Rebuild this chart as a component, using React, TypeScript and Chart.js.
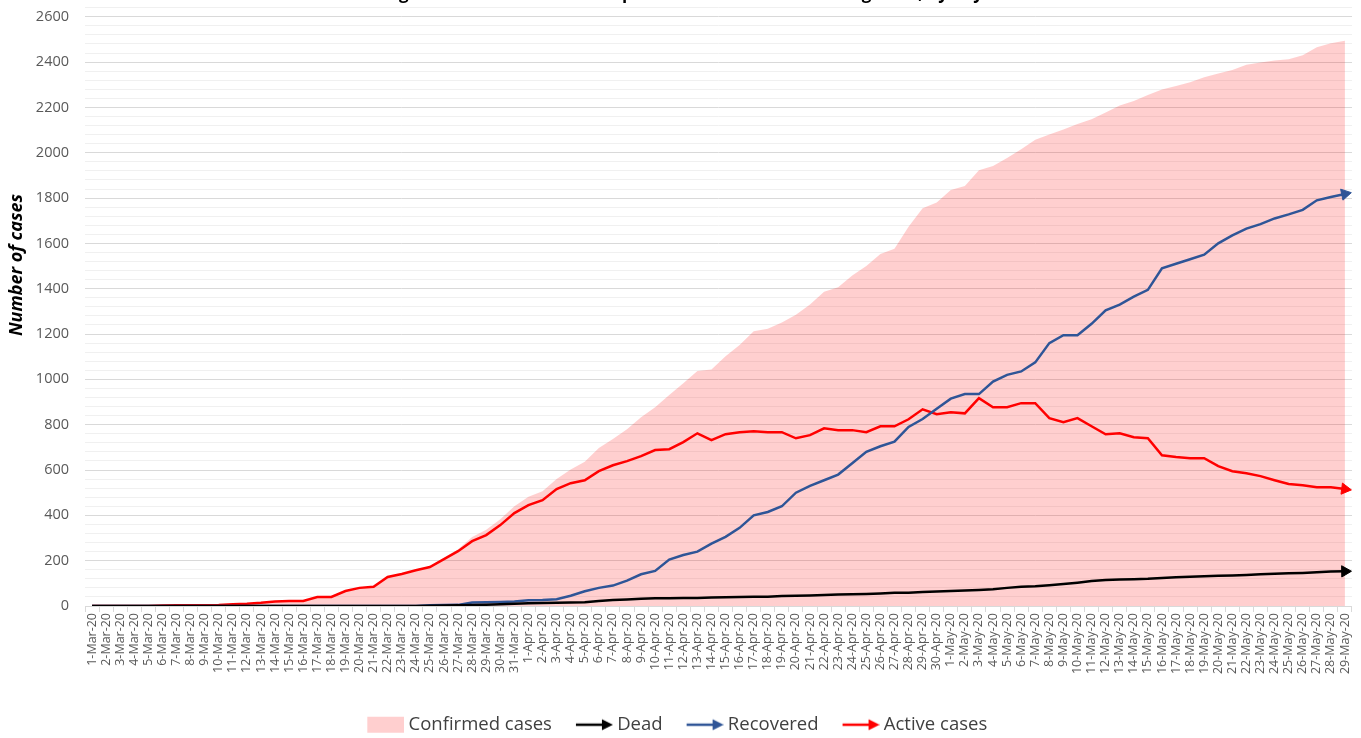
import React, { useEffect, useRef } from 'react';
import { Chart, registerables } from 'chart.js';

Chart.register(...registerables);

const chartTitle = 'Progression of the COVID-19 epidemic in Bosnia and Herzegovina, by day';
const yAxisTitle = 'Number of cases';
const seriesNames = ['Confirmed cases', 'Dead', 'Recovered', 'Active cases'];

const categories = [
  '1-Mar-20', '2-Mar-20', '3-Mar-20', '4-Mar-20', '5-Mar-20', '6-Mar-20', '7-Mar-20', '8-Mar-20', '9-Mar-20', '10-Mar-20',
  '11-Mar-20', '12-Mar-20', '13-Mar-20', '14-Mar-20', '15-Mar-20', '16-Mar-20', '17-Mar-20', '18-Mar-20', '19-Mar-20', '20-Mar-20',
  '21-Mar-20', '22-Mar-20', '23-Mar-20', '24-Mar-20', '25-Mar-20', '26-Mar-20', '27-Mar-20', '28-Mar-20', '29-Mar-20', '30-Mar-20', '31-Mar-20',
  '1-Apr-20', '2-Apr-20', '3-Apr-20', '4-Apr-20', '5-Apr-20', '6-Apr-20', '7-Apr-20', '8-Apr-20', '9-Apr-20', '10-Apr-20',
  '11-Apr-20', '12-Apr-20', '13-Apr-20', '14-Apr-20', '15-Apr-20', '16-Apr-20', '17-Apr-20', '18-Apr-20', '19-Apr-20', '20-Apr-20',
  '21-Apr-20', '22-Apr-20', '23-Apr-20', '24-Apr-20', '25-Apr-20', '26-Apr-20', '27-Apr-20', '28-Apr-20', '29-Apr-20', '30-Apr-20',
  '1-May-20', '2-May-20', '3-May-20', '4-May-20', '5-May-20', '6-May-20', '7-May-20', '8-May-20', '9-May-20', '10-May-20',
  '11-May-20', '12-May-20', '13-May-20', '14-May-20', '15-May-20', '16-May-20', '17-May-20', '18-May-20', '19-May-20', '20-May-20',
  '21-May-20', '22-May-20', '23-May-20', '24-May-20', '25-May-20', '26-May-20', '27-May-20', '28-May-20', '29-May-20',
];

const confirmed = [
  0, 0, 0, 0, 0, 2, 3, 3, 3, 4,
  8, 10, 14, 20, 22, 22, 40, 40, 66, 80,
  85, 128, 141, 158, 176, 213, 250, 305, 336, 383, 440,
  482, 506, 560, 602, 637, 697, 737, 780, 833, 877,
  931, 983, 1037, 1044, 1102, 1152, 1212, 1223, 1251, 1285,
  1330, 1387, 1407, 1458, 1500, 1553, 1576, 1673, 1755, 1780,
  1836, 1853, 1923, 1941, 1977, 2015, 2057, 2081, 2103, 2127,
  2148, 2178, 2209, 2228, 2255, 2279, 2294, 2311, 2333, 2350,
  2365, 2388, 2398, 2407, 2412, 2430, 2465, 2483, 2494,
];

const dead = [
  0, 0, 0, 0, 0, 0, 0, 0, 0, 0,
  0, 0, 0, 0, 0, 0, 0, 0, 0, 0,
  0, 0, 0, 0, 1, 2, 3, 4, 6, 8, 10,
  12, 13, 14, 15, 17, 22, 26, 29, 32, 34,
  34, 35, 35, 37, 39, 40, 41, 41, 44, 45,
  46, 48, 51, 52, 53, 55, 58, 59, 62, 64,
  66, 68, 71, 74, 80, 85, 87, 92, 97, 103,
  110, 115, 117, 118, 120, 124, 127, 129, 131, 133,
  135, 137, 140, 142, 144, 146, 149, 152, 153,
];

const recovered = [
  0, 0, 0, 0, 0, 0, 0, 0, 0, 0,
  0, 0, 0, 0, 0, 0, 0, 0, 0, 0,
  0, 0, 0, 0, 3, 4, 5, 15, 17, 18, 20,
  25, 26, 30, 45, 65, 80, 90, 112, 140, 155,
  205, 225, 240, 275, 305, 345, 400, 415, 440, 500,
  530, 555, 580, 630, 680, 705, 725, 790, 825, 870,
  915, 935, 935, 990, 1020, 1035, 1075, 1160, 1195, 1195,
  1245, 1305, 1330, 1365, 1395, 1490, 1510, 1530, 1550, 1600,
  1635, 1665, 1685, 1710, 1728, 1748, 1790, 1805, 1818,
];

const active = [
  0, 0, 0, 0, 0, 2, 3, 3, 3, 4,
  8, 10, 14, 20, 22, 22, 40, 40, 66, 80,
  85, 128, 141, 158, 172, 207, 242, 286, 313, 357, 410,
  445, 467, 516, 542, 555, 595, 621, 639, 661, 688,
  692, 723, 762, 732, 758, 767, 771, 767, 767, 740,
  754, 784, 776, 776, 767, 793, 793, 824, 868, 846,
  855, 850, 917, 877, 877, 895, 895, 829, 811, 829,
  793, 758, 762, 745, 740, 665, 657, 652, 652, 617,
  595, 586, 573, 555, 538, 533, 524, 524, 516,
];

const yMin = 0;
const yMax = 2640;
const yStep = 40;
const yLabelStep = 200;

const FONT = '"Open Sans", "DejaVu Sans", sans-serif';
const legendFontSize = 18.5;
const legendBoxWidth = 52;

function makeIcon(kind: 'area' | 'arrow', color: string): HTMLCanvasElement {
  const w = Math.round(legendBoxWidth + legendFontSize - 9);
  const h = 20;
  const c = document.createElement('canvas');
  c.width = w;
  c.height = h;
  const g = c.getContext('2d')!;
  const glyph = 37;
  const x0 = w - glyph;
  if (kind === 'area') {
    g.fillStyle = color;
    g.fillRect(x0, 2, glyph, 16);
  } else {
    g.strokeStyle = color;
    g.lineWidth = 2.5;
    g.beginPath();
    g.moveTo(x0, h / 2);
    g.lineTo(w - 8, h / 2);
    g.stroke();
    g.fillStyle = color;
    g.beginPath();
    g.moveTo(w - 11, h / 2 - 5.5);
    g.lineTo(w, h / 2);
    g.lineTo(w - 11, h / 2 + 5.5);
    g.closePath();
    g.fill();
  }
  return c;
}

const arrowRotation = (c: any) => {
  const data = c.dataset.data as number[];
  const n = data.length;
  const xs = c.chart.scales?.x;
  const ys = c.chart.scales?.y;
  if (!xs || !ys || n < 2) return 90;
  const dx = xs.getPixelForValue(n - 1) - xs.getPixelForValue(n - 2);
  const dy = ys.getPixelForValue(data[n - 1]) - ys.getPixelForValue(data[n - 2]);
  return 90 + (Math.atan2(dy, dx) * 180) / Math.PI;
};

const lastPointRadius = (c: any) => (c.dataIndex === (c.dataset.data as number[]).length - 1 ? 6.5 : 0);

const yTitlePlugin = {
  id: 'yTitlePlugin',
  afterDraw(chart: any) {
    const ctx = chart.ctx as CanvasRenderingContext2D;
    ctx.save();
    ctx.translate(17, 282);
    ctx.rotate(-Math.PI / 2);
    ctx.font = `italic bold 18px ${FONT}`;
    ctx.fillStyle = '#000000';
    ctx.textAlign = 'center';
    ctx.textBaseline = 'middle';
    ctx.fillText(yAxisTitle, 0, 0);
    ctx.restore();
  },
};

export default function App() {
  const ref = useRef<HTMLCanvasElement | null>(null);

  useEffect(() => {
    if (!ref.current) return;
    const colors = ['rgba(255, 0, 0, 0.19)', '#000000', '#2F5597', '#FF0000'];
    const icons = [
      makeIcon('area', 'rgb(255, 207, 207)'),
      makeIcon('arrow', colors[1]),
      makeIcon('arrow', colors[2]),
      makeIcon('arrow', colors[3]),
    ];
    const lineDs = (label: string, data: number[], color: string) => ({
      label,
      data,
      borderColor: color,
      backgroundColor: color,
      borderWidth: 2.5,
      fill: false,
      tension: 0,
      pointStyle: 'triangle' as const,
      pointRadius: lastPointRadius,
      pointHoverRadius: lastPointRadius,
      pointRotation: arrowRotation,
      pointBackgroundColor: color,
      pointBorderColor: color,
      pointBorderWidth: 1,
      order: 0,
    });
    const chart = new Chart(ref.current, {
      type: 'line',
      data: {
        labels: categories,
        datasets: [
          {
            label: seriesNames[0],
            data: confirmed,
            borderWidth: 0,
            borderColor: 'rgba(0,0,0,0)',
            backgroundColor: colors[0],
            fill: 'origin',
            pointRadius: 0,
            tension: 0,
            order: 10,
          },
          lineDs(seriesNames[1], dead, colors[1]),
          lineDs(seriesNames[2], recovered, colors[2]),
          lineDs(seriesNames[3], active, colors[3]),
        ],
      },
      options: {
        responsive: false,
        animation: false,
        events: [],
        layout: { padding: { left: 0, right: 8, top: 0, bottom: 0 } },
        plugins: {
          tooltip: { enabled: false },
          title: {
            display: true,
            text: chartTitle,
            color: '#000000',
            font: { family: FONT, size: 17, weight: 'bold' },
            padding: { top: 0, bottom: 3.3 },
          },
          legend: {
            display: true,
            position: 'bottom',
            labels: {
              usePointStyle: true,
              pointStyleWidth: legendBoxWidth,
              padding: 4,
              color: '#404040',
              font: { family: FONT, size: legendFontSize },
              generateLabels: (ch: any) =>
                ch.data.datasets.map((ds: any, i: number, arr: any[]) => ({
                  text: i === arr.length - 1 ? ds.label + '\u2003' : ds.label,
                  pointStyle: icons[i],
                  fillStyle: 'rgba(0,0,0,0)',
                  strokeStyle: 'rgba(0,0,0,0)',
                  lineWidth: 0,
                  hidden: false,
                  datasetIndex: i,
                  fontColor: '#404040',
                })),
            },
          },
        },
        scales: {
          x: {
            type: 'category',
            offset: true,
            afterFit: (scale: any) => {
              scale.height = 105.5;
            },
            grid: {
              display: true,
              drawOnChartArea: false,
              drawTicks: true,
              tickLength: 6,
              color: '#D9D9D9',
              offset: true,
            },
            border: { display: true, color: '#D9D9D9', width: 1 },
            ticks: {
              autoSkip: false,
              maxRotation: 90,
              minRotation: 90,
              padding: 1,
              color: '#595959',
              font: { family: FONT, size: 12.5 },
            },
          },
          y: {
            type: 'linear',
            min: yMin,
            max: yMax,
            afterFit: (scale: any) => {
              scale.width = 85;
            },
            border: { display: false },
            grid: {
              drawTicks: false,
              color: (c: any) => (c.tick && c.tick.value % yLabelStep === 0 ? '#D9D9D9' : '#F0F0F0'),
              lineWidth: 1,
            },
            ticks: {
              stepSize: yStep,
              maxTicksLimit: 200,
              autoSkip: false,
              padding: 16,
              color: '#595959',
              font: { family: FONT, size: 14.5 },
              callback: (v: any) => (Number(v) % yLabelStep === 0 ? String(v) : ''),
            },
          },
        },
      },
      plugins: [yTitlePlugin],
    } as any);
    return () => chart.destroy();
  }, []);

  return (
    <div style={{ position: 'fixed', left: 0, top: 0, width: 1361, height: 738, overflow: 'hidden', background: '#ffffff' }}>
      <div style={{ position: 'absolute', left: 0, top: -17, width: 1361, height: 761 }}>
        <canvas ref={ref} width={1361} height={761} style={{ display: 'block', width: 1361, height: 761 }} />
      </div>
    </div>
  );
}
